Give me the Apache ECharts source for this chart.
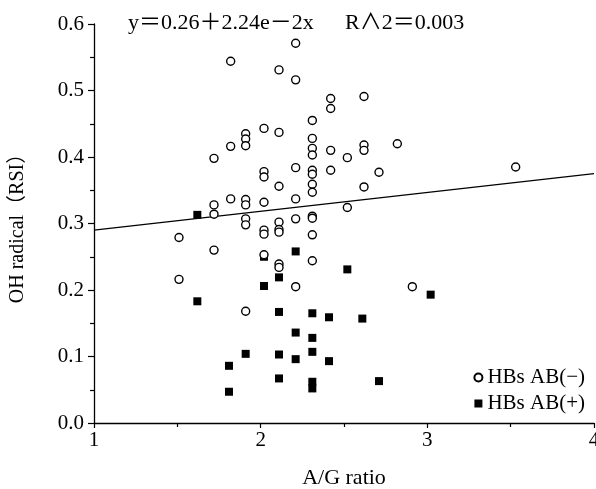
<!DOCTYPE html>
<html>
<head>
<meta charset="utf-8">
<script src="https://cdn.jsdelivr.net/npm/echarts@6/dist/echarts.min.js"></script>
<style>
  html, body { margin: 0; padding: 0; background: #fff; }
  #chart { width: 596px; height: 489px; }
</style>
</head>
<body>
<div id="chart"></div>
<script>
// HBs AB(−) group: A/G ratio vs OH radical (RSI)
const negX = [
  1.51, 1.51,
  1.72, 1.72, 1.72, 1.72,
  1.82, 1.82, 1.82,
  1.91, 1.91, 1.91, 1.91, 1.91, 1.91, 1.91, 1.91,
  2.02, 2.02, 2.02, 2.02, 2.02, 2.02, 2.02,
  2.11, 2.11, 2.11, 2.11, 2.11, 2.11, 2.11, 2.11,
  2.21, 2.21, 2.21, 2.21, 2.21, 2.21,
  2.31, 2.31, 2.31, 2.31, 2.31, 2.31, 2.31, 2.31, 2.31, 2.31, 2.31, 2.31,
  2.42, 2.42, 2.42, 2.42,
  2.52, 2.52,
  2.62, 2.62, 2.62, 2.62,
  2.71, 2.82, 2.91, 3.53
];
const negY = [
  0.279, 0.216,
  0.398, 0.328, 0.314, 0.260,
  0.544, 0.416, 0.337,
  0.435, 0.427, 0.417, 0.336, 0.328, 0.307, 0.298, 0.168,
  0.443, 0.378, 0.370, 0.332, 0.290, 0.284, 0.253,
  0.531, 0.437, 0.356, 0.302, 0.291, 0.287, 0.239, 0.234,
  0.571, 0.516, 0.384, 0.337, 0.307, 0.205,
  0.455, 0.428, 0.413, 0.403, 0.380, 0.374, 0.359, 0.347, 0.311, 0.308, 0.283, 0.244,
  0.488, 0.473, 0.410, 0.380,
  0.399, 0.324,
  0.491, 0.418, 0.410, 0.355,
  0.377, 0.420, 0.205, 0.385
];

// HBs AB(+) group
const posX = [1.62, 1.62, 1.81, 1.81, 1.91, 2.02, 2.02, 2.11, 2.11, 2.11, 2.11,
  2.21, 2.21, 2.21, 2.31, 2.31, 2.31, 2.31, 2.31, 2.41, 2.41, 2.52, 2.61, 2.71, 3.02];
const posY = [0.313, 0.183, 0.086, 0.047, 0.104, 0.250, 0.206, 0.219, 0.167, 0.103, 0.067,
  0.258, 0.136, 0.096, 0.165, 0.128, 0.107, 0.062, 0.052, 0.159, 0.093, 0.231, 0.157, 0.063, 0.193];

// Fitted regression line, end points over the x range
const fitX = [1, 4];
const fitY = [0.290, 0.375];

const seriesNames = ['HBs AB(−)', 'HBs AB(+)'];
const equationText = 'y＝0.26＋2.24e－2x';
const r2Text = 'R∧2＝0.003';
const xTicks = [1, 2, 3, 4];
const yTicks = [0, 0.1, 0.2, 0.3, 0.4, 0.5, 0.6];

const zip = (xs, ys) => xs.map((x, i) => [x, ys[i]]);
const SERIF = '"Liberation Serif", "Noto Sans CJK JP", serif';

const chart = echarts.init(document.getElementById('chart'), null, { renderer: 'canvas' });
chart.setOption({
  animation: false,
  backgroundColor: '#fff',
  textStyle: { fontFamily: SERIF, color: '#000' },
  grid: { left: 94, right: 2, top: 24, bottom: 66, containLabel: false, outerBoundsMode: 'none' },
  xAxis: {
    type: 'value',
    min: xTicks[0], max: xTicks[xTicks.length - 1], interval: 1,
    name: 'A/G ratio', nameLocation: 'middle', nameGap: 44,
    nameTextStyle: { fontFamily: SERIF, fontSize: 22, color: '#000' },
    axisLine: { lineStyle: { color: '#000', width: 1.3 } },
    axisTick: { show: true, length: 5, inside: false, lineStyle: { color: '#000', width: 1.2 } },
    minorTick: { show: true, splitNumber: 2, length: 4, lineStyle: { color: '#000', width: 1.2 } },
    axisLabel: { fontFamily: SERIF, fontSize: 21, color: '#000', margin: 7, hideOverlap: false },
    splitLine: { show: false }
  },
  yAxis: {
    type: 'value',
    min: yTicks[0], max: yTicks[yTicks.length - 1], interval: 0.1,
    name: 'OH radical（RSI）', nameLocation: 'middle', nameGap: 66, nameRotate: 90,
    nameTextStyle: { fontFamily: SERIF, fontSize: 20, color: '#000' },
    axisLine: { show: true, lineStyle: { color: '#000', width: 1.3 } },
    axisTick: { show: true, length: 6, inside: false, lineStyle: { color: '#000', width: 1.2 } },
    minorTick: { show: true, splitNumber: 2, length: 4, lineStyle: { color: '#000', width: 1.2 } },
    axisLabel: {
      fontFamily: SERIF, fontSize: 21, color: '#000', margin: 10,
      formatter: v => v.toFixed(1)
    },
    splitLine: { show: false }
  },
  legend: {
    data: seriesNames,
    orient: 'vertical',
    right: 6, top: 362,
    itemWidth: 8, itemHeight: 8, itemGap: 5,
    textStyle: { fontFamily: SERIF, fontSize: 21, color: '#000' }
  },
  graphic: [
    {
      type: 'text', left: 128, top: 12,
      style: { text: equationText, font: '22px ' + SERIF, fill: '#000' }
    },
    {
      type: 'text', left: 345, top: 12,
      style: { text: r2Text, font: '22px ' + SERIF, fill: '#000' }
    }
  ],
  series: [
    {
      name: seriesNames[1],
      type: 'scatter',
      symbol: 'rect',
      symbolSize: 8,
      itemStyle: { color: '#000', opacity: 1 },
      data: zip(posX, posY),
      z: 3
    },
    {
      name: seriesNames[0],
      type: 'scatter',
      symbol: 'circle',
      symbolSize: 8,
      itemStyle: { color: '#fff', borderColor: '#000', borderWidth: 1.4, opacity: 1 },
      data: zip(negX, negY),
      z: 4
    },
    {
      name: 'fit',
      type: 'line',
      data: zip(fitX, fitY),
      symbol: 'none',
      silent: true,
      lineStyle: { color: '#000', width: 1.3 },
      z: 2
    }
  ]
});
</script>
</body>
</html>
